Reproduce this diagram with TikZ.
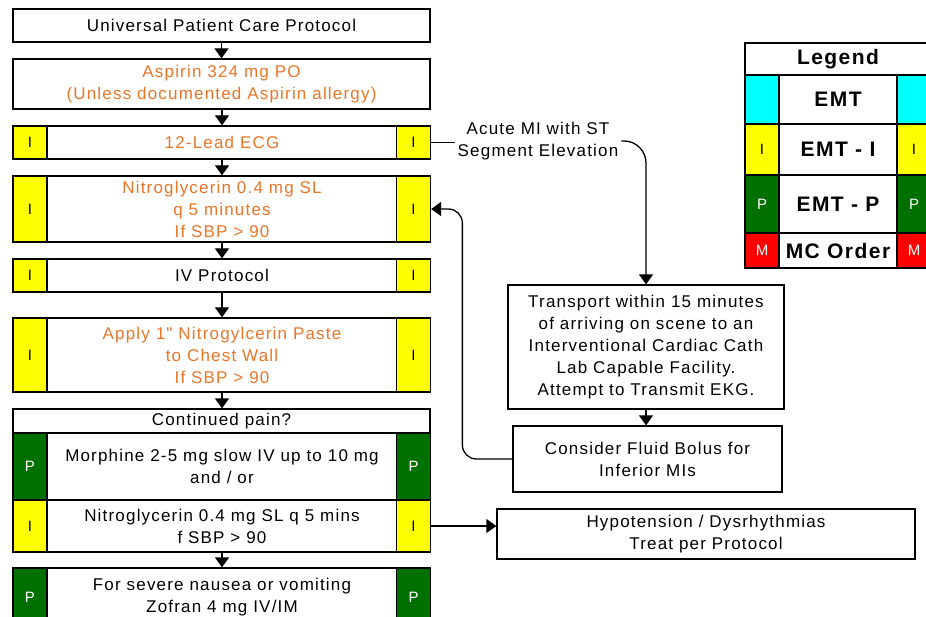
\documentclass[tikz,border=0pt]{standalone}
\usepackage{fontspec}
\usepackage{tikz}
\usetikzlibrary{arrows.meta, positioning}
\newfontfamily\chartfont{Liberation Sans}[LetterSpace=7]
\definecolor{drugorange}{RGB}{232,118,40}
\definecolor{emtcyan}{RGB}{0,255,255}
\definecolor{emtiyellow}{RGB}{255,255,0}
\definecolor{emtpgreen}{RGB}{0,112,0}
\definecolor{mcred}{RGB}{255,0,0}

\begin{document}
\begin{tikzpicture}[x=1pt, y=-1pt,
        font=\chartfont\fontsize{17}{22}\selectfont,
        box/.style={draw, line width=1.3pt, fill=white, align=center, inner sep=0pt},
        drug/.style={box, text=drugorange},
        full/.style={box, minimum width=417pt},
        mid/.style={box, minimum width=350pt},
        cell/.style={draw, line width=1.3pt, inner sep=0pt, minimum width=34pt,
            font=\chartfont\fontsize{15}{18}\selectfont},
        icell/.style={cell, fill=emtiyellow},
        pcell/.style={cell, fill=emtpgreen, text=white},
        leg/.style={draw, line width=1.8pt, inner sep=0pt, align=center,
            font=\chartfont\bfseries\fontsize{21}{24}\selectfont},
        legcell/.style={leg, minimum width=34pt, font=\chartfont\fontsize{15}{18}\selectfont},
        flow/.style={-{Triangle[width=14pt, length=10pt]}, line width=1.3pt}
    ]
    \useasboundingbox (0,0) rectangle (926,617);
    \clip (0,0) rectangle (926,617);

    % main column
    \node[full, minimum height=33pt] (upcp) at (221.5,25.5) {Universal Patient Care Protocol};
    \node[full, drug, minimum height=50pt] (aspirin) at (221.5,84) {Aspirin 324 mg PO\\(Unless documented Aspirin allergy)};

    \node[mid, drug, minimum height=33pt] (ecg) at (222,142.5) {12-Lead ECG};
    \node[icell, minimum height=33pt] (ecgL) at (30,142.5) {I};
    \node[icell, minimum height=33pt] (ecgR) at (413.5,142.5) {I};

    \node[mid, drug, minimum height=66pt] (ntg) at (222,209) {Nitroglycerin 0.4 mg SL\\q 5 minutes\\If SBP > 90};
    \node[icell, minimum height=66pt] (ntgL) at (30,209) {I};
    \node[icell, minimum height=66pt] (ntgR) at (413.5,209) {I};

    \node[mid, minimum height=33pt] (iv) at (222,275.5) {IV Protocol};
    \node[icell, minimum height=33pt] (ivL) at (30,275.5) {I};
    \node[icell, minimum height=33pt] (ivR) at (413.5,275.5) {I};

    \node[mid, drug, minimum height=74pt] (paste) at (222,355) {Apply 1" Nitrogylcerin Paste\\to Chest Wall\\If SBP > 90};
    \node[icell, minimum height=74pt] (pasteL) at (30,355) {I};
    \node[icell, minimum height=74pt] (pasteR) at (413.5,355) {I};

    \node[full, minimum height=24pt] (pain) at (221.5,421) {Continued pain?};

    \node[mid, minimum height=67pt] (morph) at (222,466.5) {Morphine 2-5 mg slow IV up to 10 mg\\and / or};
    \node[pcell, minimum height=67pt] (morphL) at (30,466.5) {P};
    \node[pcell, minimum height=67pt] (morphR) at (413.5,466.5) {P};

    \node[mid, minimum height=52pt] (ntgb) at (222,526) {Nitroglycerin 0.4 mg SL q 5 mins\\f SBP > 90};
    \node[icell, minimum height=52pt] (ntgbL) at (30,526) {I};
    \node[icell, minimum height=52pt] (ntgbR) at (413.5,526) {I};

    \node[mid, minimum height=58pt] (zofran) at (222,597) {For severe nausea or vomiting\\Zofran 4 mg IV/IM};
    \node[pcell, minimum height=58pt] (zofranL) at (30,597) {P};
    \node[pcell, minimum height=58pt] (zofranR) at (413.5,597) {P};

    % STEMI branch
    \node[align=center, inner sep=3pt] (stemi) at (538,141) {Acute MI with ST\\Segment Elevation};
    \node[box, minimum width=276pt, minimum height=124pt] (transport) at (646,347)
        {Transport within 15 minutes\\of arriving on scene to an\\Interventional Cardiac Cath\\Lab Capable Facility.\\Attempt to Transmit EKG.};
    \node[box, minimum width=269pt, minimum height=66pt] (bolus) at (647.5,459) {Consider Fluid Bolus for\\Inferior MIs};
    \node[box, minimum width=418pt, minimum height=50pt] (hypo) at (706,534) {Hypotension / Dysrhythmias\\Treat per Protocol};

    % legend
    \node[leg, minimum width=186pt, minimum height=32pt] (legend) at (838,59) {Legend};
    \node[leg, minimum width=118pt, minimum height=49pt] (lemt) at (838,99.5) {EMT};
    \node[legcell, fill=emtcyan, minimum height=49pt] (lemtL) at (762,99.5) {};
    \node[legcell, fill=emtcyan, minimum height=49pt] (lemtR) at (914,99.5) {};
    \node[leg, minimum width=118pt, minimum height=51pt] (lemti) at (838,149.5) {EMT - I};
    \node[legcell, fill=emtiyellow, minimum height=51pt] (lemtiL) at (762,149.5) {I};
    \node[legcell, fill=emtiyellow, minimum height=51pt] (lemtiR) at (914,149.5) {I};
    \node[leg, minimum width=118pt, minimum height=58pt] (lemtp) at (838,204) {EMT - P};
    \node[legcell, fill=emtpgreen, text=white, minimum height=58pt] (lemtpL) at (762,204) {P};
    \node[legcell, fill=emtpgreen, text=white, minimum height=58pt] (lemtpR) at (914,204) {P};
    \node[leg, minimum width=118pt, minimum height=35pt] (lmc) at (838,250.5) {MC Order};
    \node[legcell, fill=mcred, text=white, minimum height=35pt] (lmcL) at (762,250.5) {M};
    \node[legcell, fill=mcred, text=white, minimum height=35pt] (lmcR) at (914,250.5) {M};

    % connectors
    \draw[flow] (upcp) -- (aspirin);
    \draw[flow] (aspirin.south -| ecg) -- (ecg);
    \draw[flow] (ecg) -- (ntg);
    \draw[flow] (ntg) -- (iv);
    \draw[flow] (iv) -- (paste);
    \draw[flow] (paste) -- (paste.south |- pain.north);
    \draw[flow] (ntgb) -- (zofran);
    \draw[line width=1.3pt] (ecgR.east) -- (ecgR.east -| stemi.west);
    \draw[flow, rounded corners=22pt] (stemi.east) -| (transport.north);
    \draw[flow] (transport.south) -- (transport.south |- bolus.north);
    \draw[flow, rounded corners=14pt] (bolus.west) -- ++(-50,0) |- (ntgR.east);
    \draw[flow] (ntgbR.east) -- (ntgbR.east -| hypo.west);
\end{tikzpicture}
\end{document}
